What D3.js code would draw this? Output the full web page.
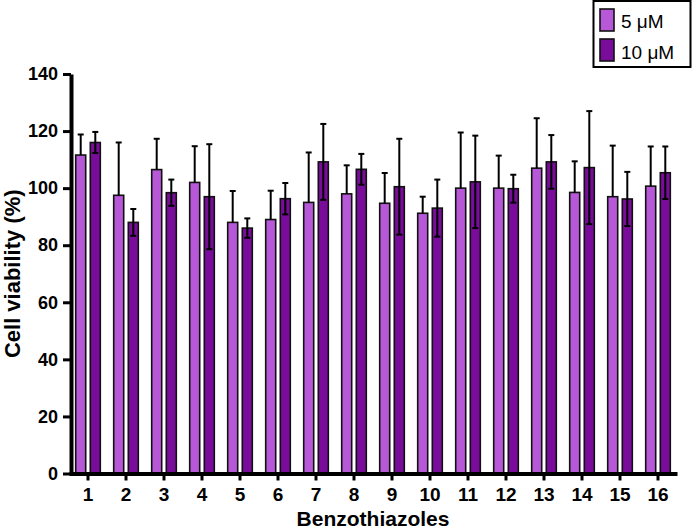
<!DOCTYPE html>
<html>
<head>
<meta charset="utf-8">
<script src="https://cdn.jsdelivr.net/npm/d3@7"></script>
<style>
  body { margin: 0; background: #fff; }
  svg { font-family: "Liberation Sans", Arial, sans-serif; }
  .axis path, .axis line { stroke: #000; }
</style>
</head>
<body>
<div id="chart"></div>
<script>
// Chart data
var compounds = ["1","2","3","4","5","6","7","8","9","10","11","12","13","14","15","16"];
var series = ["5 \u03bcM", "10 \u03bcM"];
var colors = ["#b658d8", "#7a0c9b"];

var mean5 = [111.6, 97.5, 106.5, 102, 88, 89, 95, 98, 94.7, 91.2, 100, 100, 107, 98.5, 97, 100.7];
var sd5   = [7.2, 18.5, 10.8, 12.7, 11, 10.1, 17.5, 10, 10.6, 5.8, 19.5, 11.4, 17.5, 10.9, 17.9, 13.9];
var mean10 = [116, 88, 98.4, 97, 86, 96.3, 109.2, 106.6, 100.5, 93, 102.2, 99.8, 109.2, 107.2, 96.2, 105.4];
var sd10   = [3.7, 4.7, 4.6, 18.4, 3.4, 5.5, 13.3, 5.4, 16.8, 10, 16.2, 4.9, 9.4, 19.8, 9.5, 9.2];
var yTicks = [0, 20, 40, 60, 80, 100, 120, 140];

var svgWidth = 696;
var svgHeight = 532;

var svg = d3.select("#chart")
  .append("svg")
  .attr("width", svgWidth)
  .attr("height", svgHeight);

// Scales
var x0 = d3.scaleBand()
  .domain(compounds)
  .range([69, 677])
  .padding(0);

var x1 = d3.scaleBand()
  .domain([0, 1])
  .range([6.7, 31.3])
  .paddingInner(0.315);

var y = d3.scaleLinear()
  .domain([0, 140])
  .range([473.5, 74]);

// Build rows for bars
var rows = [];
compounds.forEach(function(c, i) {
  rows.push({c: c, s: 0, mean: mean5[i], sd: sd5[i]});
  rows.push({c: c, s: 1, mean: mean10[i], sd: sd10[i]});
});

// Bars
svg.append("g")
  .selectAll("rect")
  .data(rows)
  .enter()
  .append("rect")
  .attr("x", d => x0(d.c) + x1(d.s))
  .attr("y", d => y(d.mean))
  .attr("width", x1.bandwidth())
  .attr("height", d => y(0) - y(d.mean))
  .attr("fill", d => colors[d.s])
  .attr("stroke", "#111")
  .attr("stroke-width", 1.6);

// Error bars (5 uM only upward, 10 uM both ways)
var err = svg.append("g")
  .attr("stroke", "#000")
  .attr("stroke-width", 2);

rows.forEach(function(d) {
  var cx = x0(d.c) + x1(d.s) + x1.bandwidth() / 2;
  var top = y(d.mean + d.sd);
  var bottom = d.s === 0 ? y(d.mean) : y(d.mean - d.sd);
  err.append("line")
    .attr("x1", cx).attr("x2", cx)
    .attr("y1", top).attr("y2", bottom);
  err.append("line")
    .attr("x1", cx - 3).attr("x2", cx + 3)
    .attr("y1", top).attr("y2", top);
  if (d.s === 1) {
    err.append("line")
      .attr("x1", cx - 3).attr("x2", cx + 3)
      .attr("y1", bottom).attr("y2", bottom);
  }
});

// Y axis
var yAxis = svg.append("g")
  .attr("class", "axis")
  .attr("transform", "translate(71,0)")
  .call(d3.axisLeft(y).tickValues(yTicks).tickSize(8).tickSizeOuter(0).tickPadding(5));
yAxis.select(".domain").attr("stroke-width", 4);
yAxis.selectAll(".tick line").attr("stroke-width", 3);
yAxis.selectAll("text")
  .attr("fill", "#000")
  .style("font-size", "18px")
  .style("font-weight", "bold");

// X axis
var xAxis = svg.append("g")
  .attr("class", "axis")
  .attr("transform", "translate(0,473.5)")
  .call(d3.axisBottom(x0).tickSize(7).tickSizeOuter(0));
xAxis.select(".domain").attr("stroke-width", 4);
xAxis.selectAll(".tick line").attr("stroke-width", 3);
xAxis.selectAll("text")
  .attr("fill", "#000")
  .attr("y", 27)
  .attr("dy", 0)
  .style("font-size", "19px")
  .style("font-weight", "bold");

// Axis titles
svg.append("text")
  .attr("transform", "translate(20," + ((74 + 473.5) / 2) + ") rotate(-90)")
  .attr("text-anchor", "middle")
  .style("font-size", "22px")
  .style("font-weight", "bold")
  .text("Cell viability (%)");

svg.append("text")
  .attr("x", (69 + 677) / 2)
  .attr("y", 526)
  .attr("text-anchor", "middle")
  .style("font-size", "21px")
  .style("font-weight", "bold")
  .text("Benzothiazoles");

// Legend
var legend = svg.append("g");
legend.append("rect")
  .attr("x", 593.5).attr("y", 1)
  .attr("width", 97).attr("height", 66)
  .attr("fill", "#fff")
  .attr("stroke", "#000")
  .attr("stroke-width", 2);

series.forEach(function(s, i) {
  legend.append("rect")
    .attr("x", 600).attr("y", 9 + i * 30)
    .attr("width", 14).attr("height", 22)
    .attr("fill", colors[i])
    .attr("stroke", "#111")
    .attr("stroke-width", 1.6);
  legend.append("text")
    .attr("x", 621).attr("y", 28 + i * 30.5)
    .style("font-size", "19px")
    .text(s);
});
</script>
</body>
</html>
